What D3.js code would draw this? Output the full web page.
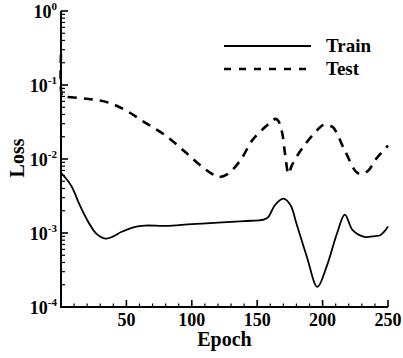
<!DOCTYPE html>
<html><head><meta charset="utf-8">
<script src="https://cdn.jsdelivr.net/npm/d3@7"></script>
<style>body{margin:0;background:#fff}svg{display:block}text{font-family:"Liberation Serif","Times New Roman",serif;font-weight:bold;fill:#000}</style>
</head><body>
<svg id="c" width="403" height="358"></svg>
<script>
const trainEpoch = [0,4,8,11,14,21,27,34,40,46,56,64,80,100,120,140,155,158.5,163.5,170,175.5,180,188,196,203,211,217,223,232,240,244,248,250];
const trainLoss  = [6.5e-3,5.4e-3,4.3e-3,3.3e-3,2.45e-3,1.4e-3,9.8e-4,8.4e-4,9.0e-4,1.03e-3,1.2e-3,1.26e-3,1.25e-3,1.32e-3,1.38e-3,1.45e-3,1.52e-3,1.64e-3,2.37e-3,2.91e-3,2.37e-3,1.34e-3,4.75e-4,1.87e-4,3.49e-4,9.84e-4,1.77e-3,1.09e-3,8.85e-4,9.1e-4,9.33e-4,1.09e-3,1.23e-3];
const testEpoch = [0,1,3,21,36,49,64,80,95,108,116,120,127,137,146,155,160,164,166,169,171.3,174,176.5,184,195.5,200.5,205,208,217,226,230,235,241,250];
const testLoss  = [0.26,0.07,0.0695,0.0647,0.0582,0.046,0.0313,0.0207,0.0124,7.8e-3,6.2e-3,5.7e-3,6.2e-3,9.5e-3,0.0177,0.026,0.031,0.0348,0.033,0.023,0.0117,6.3e-3,8.2e-3,0.0137,0.0242,0.0289,0.028,0.0268,0.013,6.6e-3,6.3e-3,7.0e-3,0.0101,0.0152];
const xTicks = [50,100,150,200,250];
const yExps = [0,-1,-2,-3,-4];
const legendLabels = ["Train","Test"];

const svg = d3.select("#c");
const L=61, R=388, T=11, B=307;
const x = d3.scaleLinear().domain([0,250]).range([L,R]);
const y = d3.scaleLog().domain([1e-4,1]).range([B,T]);

const g = svg.append("g");
const minorX = d3.range(10,251,10).filter(d=>d%50!==0);
g.selectAll(".mx").data(minorX).enter().append("line")
 .attr("x1",d=>x(d)).attr("x2",d=>x(d)).attr("y1",B).attr("y2",B-3.5).attr("stroke","#000").attr("stroke-width",1.2);
g.selectAll(".Mx").data(xTicks).enter().append("line")
 .attr("x1",d=>x(d)).attr("x2",d=>x(d)).attr("y1",B).attr("y2",B-7).attr("stroke","#000").attr("stroke-width",1.6);
g.selectAll(".xl").data(xTicks).enter().append("text")
 .attr("x",d=>x(d)).attr("y",B+19).attr("text-anchor","middle").attr("font-size",18).text(d=>d);

const minorY=[];
for(let e=-4;e<0;e++) for(let k=2;k<=9;k++) minorY.push(k*Math.pow(10,e));
g.selectAll(".my").data(minorY).enter().append("line")
 .attr("x1",L).attr("x2",L+4).attr("y1",d=>y(d)).attr("y2",d=>y(d)).attr("stroke","#000").attr("stroke-width",1.2);
g.selectAll(".My").data(yExps).enter().append("line")
 .attr("x1",L).attr("x2",L+7).attr("y1",d=>y(Math.pow(10,d))).attr("y2",d=>y(Math.pow(10,d))).attr("stroke","#000").attr("stroke-width",1.6);
const yl = g.selectAll(".yl").data(yExps).enter().append("text")
 .attr("x",57).attr("y",d=>y(Math.pow(10,d))+7).attr("text-anchor","end").attr("font-size",18);
yl.append("tspan").text("10");
yl.append("tspan").attr("font-size",11).attr("dy",-8).text(d=>d===0?"0":"-"+(-d));

g.append("line").attr("x1",L).attr("x2",L).attr("y1",T).attr("y2",B+1).attr("stroke","#000").attr("stroke-width",2);
g.append("line").attr("x1",L-1).attr("x2",R).attr("y1",B).attr("y2",B).attr("stroke","#000").attr("stroke-width",2);

const line = d3.line().curve(d3.curveCatmullRom.alpha(0.5));
svg.append("path").datum(trainEpoch.map((e,i)=>[x(e),y(trainLoss[i])]))
 .attr("d",line).attr("fill","none").attr("stroke","#000").attr("stroke-width",1.8);
svg.append("path").datum(testEpoch.map((e,i)=>[x(e),y(testLoss[i])]))
 .attr("d",line).attr("fill","none").attr("stroke","#000").attr("stroke-width",2.6).attr("stroke-dasharray","9,7");

const leg = svg.append("g");
leg.append("line").attr("x1",224).attr("x2",311).attr("y1",46).attr("y2",46).attr("stroke","#000").attr("stroke-width",1.8);
leg.append("line").attr("x1",224).attr("x2",311).attr("y1",69).attr("y2",69).attr("stroke","#000").attr("stroke-width",2.6).attr("stroke-dasharray","7,8");
leg.selectAll("text").data(legendLabels).enter().append("text")
 .attr("x",326).attr("y",(d,i)=>52+i*23).attr("font-size",19).text(d=>d);

svg.append("text").attr("x",(L+R)/2).attr("y",346).attr("text-anchor","middle").attr("font-size",20).text("Epoch");
svg.append("text").attr("transform","translate(24,158) rotate(-90)").attr("text-anchor","middle").attr("font-size",20).text("Loss");
</script>
</body></html>
